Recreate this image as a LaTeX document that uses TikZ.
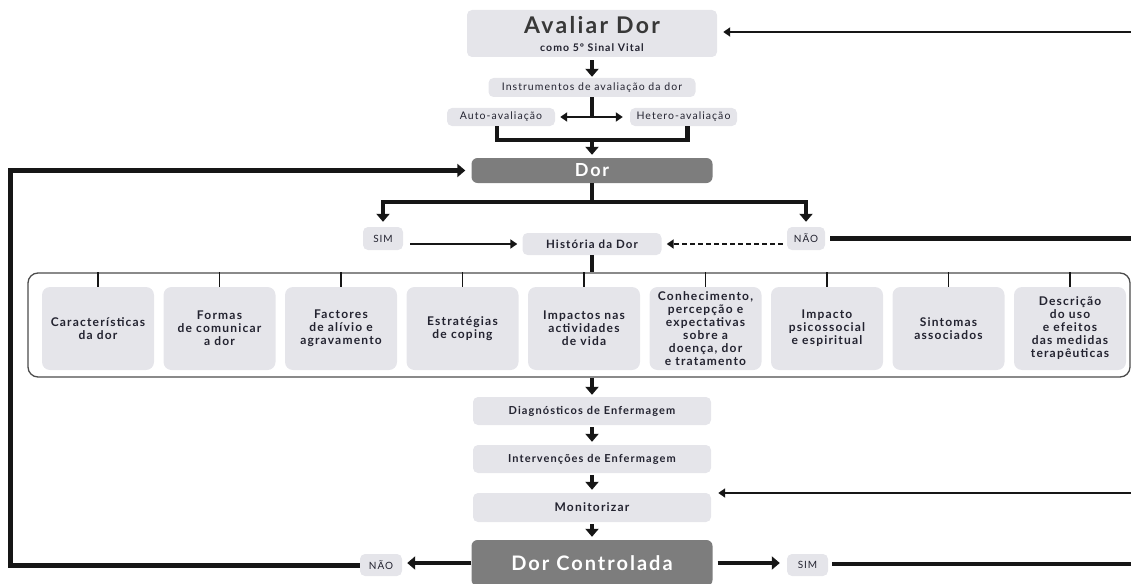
\documentclass[tikz,border=0pt]{standalone}
\usepackage{fontspec}
\setmainfont{Lato}[LetterSpace=10.0]
\usepackage{xcolor}
\usetikzlibrary{arrows.meta, positioning}

\definecolor{boxgrey}{RGB}{229,229,234}
\definecolor{darkgrey}{RGB}{125,125,125}
\definecolor{inkline}{RGB}{22,22,22}
\definecolor{inktext}{RGB}{35,35,48}

\begin{document}
\begin{tikzpicture}[x=1pt, y=-1pt,
  lightbox/.style={fill=boxgrey, rounded corners=5pt, text=inktext, inner sep=0pt, align=center,
    font=\bfseries\fontsize{11}{13}\selectfont},
  plainbox/.style={lightbox, font=\fontsize{10.5}{12}\selectfont},
  tagbox/.style={lightbox, font=\fontsize{10}{11}\selectfont, minimum width=40pt, minimum height=23pt},
  colbox/.style={lightbox, rounded corners=8pt, minimum width=112pt, minimum height=83pt,
    font=\bfseries\fontsize{12}{13}\selectfont},
  darkbox/.style={fill=darkgrey, rounded corners=6pt, text=white, inner sep=0pt},
  thickline/.style={draw=inkline, line width=4.5pt},
  thickarrow/.style={thickline, -{Triangle[length=8pt,width=13pt]}},
  thinarrow/.style={draw=inkline, line width=2.6pt, -{Triangle[length=7pt,width=9pt]}},
  dblarrow/.style={draw=inkline, line width=2.6pt, {Triangle[length=7pt,width=9pt]}-{Triangle[length=7pt,width=9pt]}},
  dasharrow/.style={thinarrow, dashed, dash pattern=on 5pt off 3pt},
  tick/.style={draw=inkline, line width=1.8pt},
]
  \useasboundingbox (0,0) rectangle (1131,583);
  \clip (0,0) rectangle (1131,583);

  \node[lightbox, minimum width=250pt, minimum height=47pt] (avaliar) at (592,33.5)
    {{\fontsize{23}{23}\selectfont\color{black!78} Avaliar Dor}\\[5pt]{\fontsize{10.5}{11}\selectfont como 5º Sinal Vital}};
  \node[plainbox, minimum width=207pt, minimum height=19pt] (instr) at (592,87.5) {Instrumentos de avaliação da dor};
  \node[plainbox, minimum width=108pt, minimum height=18pt] (auto) at (501,117) {Auto-avaliação};
  \node[plainbox, minimum width=107pt, minimum height=18pt] (hetero) at (683.5,117) {Hetero-avaliação};
  \node[darkbox, minimum width=241pt, minimum height=25pt, font=\bfseries\fontsize{18}{18}\selectfont] (dor) at (592,170.5) {Dor};

  \node[tagbox] (sim1) at (383,238.5) {SIM};
  \node[tagbox, minimum width=38pt] (nao1) at (806,238.5) {NÃO};
  \node[lightbox, minimum width=139pt, minimum height=22pt, font=\bfseries\fontsize{11.5}{13}\selectfont] (hist) at (592,244) {História da Dor};

  \node[draw=black!70, line width=1.3pt, rounded corners=10pt, minimum width=1102pt, minimum height=104pt] (frame) at (579,325) {};
  \foreach \txt [count=\i] in {{Características\\da dor}, {Formas\\de comunicar\\a dor}, {Factores\\de alívio e\\agravamento},
      {Estratégias\\de coping}, {Impactos nas\\actividades\\de vida},
      {Conhecimento,\\percepção e\\expectativas\\sobre a\\doença, dor\\e tratamento},
      {Impacto\\psicossocial\\e espiritual}, {Sintomas\\associados},
      {Descrição\\do uso\\e efeitos\\das medidas\\terapêuticas}}
    \node[colbox] (b\i) at ({98+121.5*(\i-1)},328.5) {\txt};

  \node[lightbox, minimum width=238pt, minimum height=28pt] (diag) at (592,411) {Diagnósticos de Enfermagem};
  \node[lightbox, minimum width=238pt, minimum height=28pt] (interv) at (592,459) {Intervenções de Enfermagem};
  \node[lightbox, minimum width=238pt, minimum height=29pt, font=\bfseries\fontsize{12}{13}\selectfont] (monit) at (592,507.5) {Monitorizar};
  \node[darkbox, minimum width=241pt, minimum height=46pt, font=\bfseries\fontsize{20}{20}\selectfont] (ctrl) at (592,563) {Dor Controlada};
  \node[tagbox, minimum width=42pt, minimum height=22pt] (nao2) at (381,565) {NÃO};
  \node[tagbox, minimum width=41pt, minimum height=22pt] (sim2) at (807.5,565) {SIM};

  \coordinate (rA) at (1131,32);
  \coordinate (rN) at (1131,238);
  \coordinate (rM) at (1131,493);
  \coordinate (rS) at (1131,564);
  \coordinate (lft) at (10,170.5);
  \coordinate (merge) at (592,140);
  \coordinate (split) at (592,202);

  \draw[thinarrow, shorten >=6pt] (rA) -- (rA -| avaliar.east);
  \draw[thickarrow, shorten <=3pt, shorten >=1pt] (avaliar) -- (instr);
  \draw[thickline] (instr.south) -- (instr.south |- auto.east);
  \draw[dblarrow, shorten <=5pt, shorten >=7pt] (auto.east) -- (hetero.west);
  \draw[thickline] ([xshift=-4pt]auto.south) |- (merge) -| ([xshift=4pt]hetero.south);
  \draw[thickarrow, shorten >=3pt] (merge) -- (dor);
  \draw[thickarrow, line width=5pt, shorten >=6pt] (nao2.west) -| (lft) -- (dor.west);

  \draw[thickline] (dor) -- (split);
  \draw[thickarrow, shorten >=5pt] (split) -| (sim1);
  \draw[thickarrow, shorten >=5pt] (split) -| (nao1);
  \draw[thinarrow, shorten <=7pt, shorten >=5pt] (sim1.east |- hist) -- (hist.west);
  \draw[dasharrow, shorten <=4pt, shorten >=5pt] (nao1.west |- hist) -- (hist.east);
  \draw[thickline, shorten <=5pt] (nao1.east) -- (nao1.east -| rN);

  \draw[thickline] (hist) -- (hist.south |- frame.north);
  \foreach \i in {1,...,9}
    \draw[tick] (frame.north -| b\i) -- (b\i);

  \draw[thickarrow, shorten >=2pt] (frame.south -| diag) -- (diag);
  \draw[thickarrow, shorten <=2pt, shorten >=3pt] (diag) -- (interv);
  \draw[thickarrow, shorten <=2pt, shorten >=3pt] (interv) -- (monit);
  \draw[thinarrow, shorten >=7pt] (rM) -- (rM -| monit.east);
  \draw[thickarrow, shorten <=2pt, shorten >=3pt] (monit) -- (ctrl);
  \draw[thickarrow, shorten >=5pt] (ctrl.west) -- (ctrl.west -| nao2.east);
  \draw[thickarrow, shorten <=5pt, shorten >=7pt] (ctrl.east) -- (ctrl.east -| sim2.west);
  \draw[thickline, shorten <=4pt] (sim2.east |- rS) -- (rS);
\end{tikzpicture}
\end{document}
